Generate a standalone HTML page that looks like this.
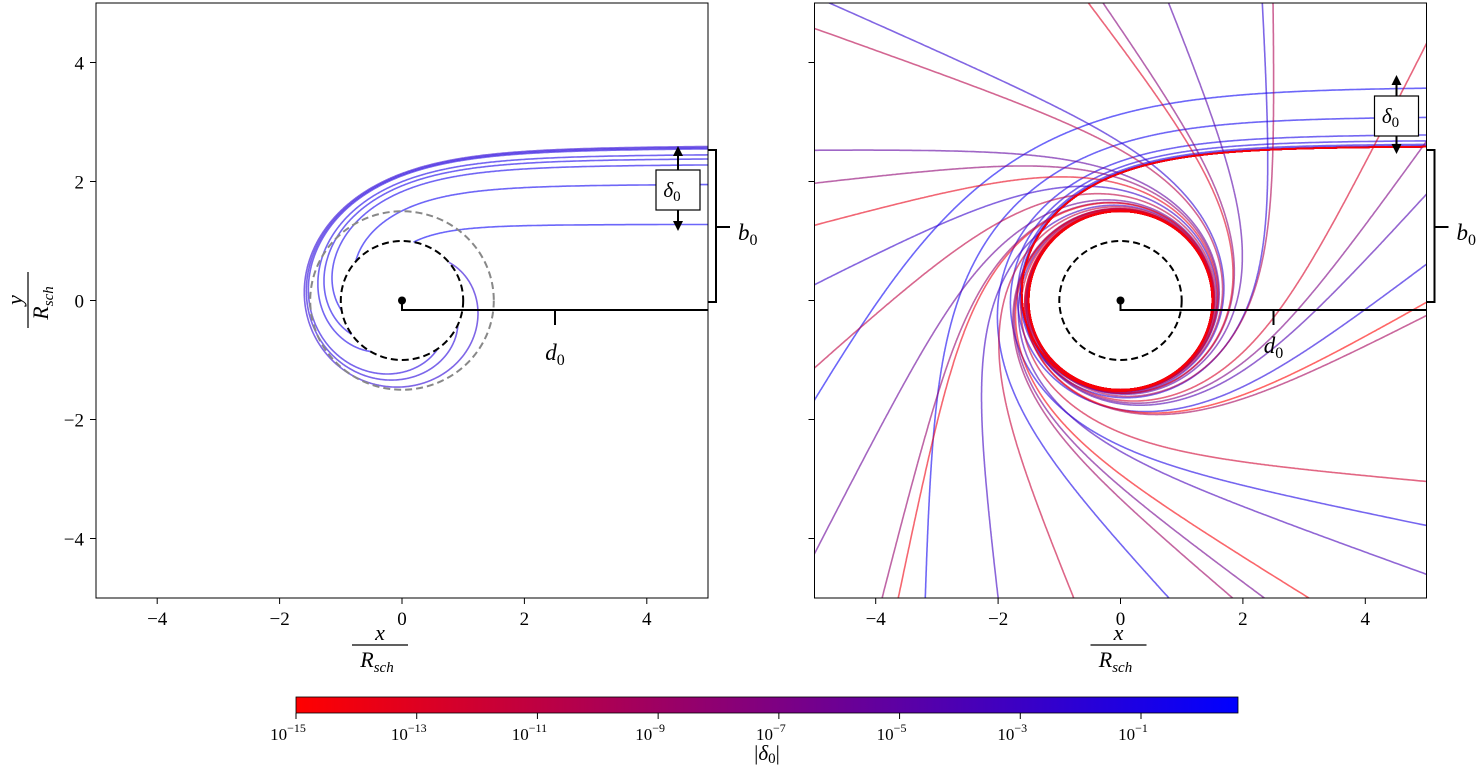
<!DOCTYPE html>
<html><head><meta charset="utf-8"><style>
html,body{margin:0;background:#fff;overflow:hidden;width:1480px;height:776px}
svg{display:block;font-family:"Liberation Serif",serif}
</style></head><body>
<svg id="fig" width="1480" height="776" viewBox="0 0 1480 776" xmlns="http://www.w3.org/2000/svg">
<defs>
<clipPath id="clipL"><rect x="96" y="3" width="612" height="595"/></clipPath>
<clipPath id="clipR"><rect x="815" y="3" width="611" height="595"/></clipPath>
<linearGradient id="cmap" x1="0" x2="1" y1="0" y2="0"><stop offset="0" stop-color="#ff0000"/><stop offset="0.5" stop-color="#800080"/><stop offset="1" stop-color="#0000ff"/></linearGradient>
<marker id="arr" viewBox="0 0 10 10" refX="5" refY="5" markerWidth="5" markerHeight="5" orient="auto-start-reverse"><path d="M0,0 L10,5 L0,10 z" fill="#000"/></marker>
</defs>
<g id="gL" clip-path="url(#clipL)"></g>
<g id="gR" clip-path="url(#clipR)"></g>
<g id="axes"></g>
<g id="ann"></g>
</svg>
<script>
// data
const deltasLeft=[0.01,0.03,0.05,0.15,0.22,0.32,0.65,1.32];
const deltasRight=[1,0.5,0.2,0.1,0.04,0.015,5e-3,2e-3,6e-4,2e-4,6e-5,2e-5,6e-6,2e-6,5e-7,1e-7,3e-8,1e-8,3e-9,1e-9,3e-10,1e-10,3e-11,1e-11,3e-12,1e-12,3e-13,1e-13,3e-14,1e-14,3e-15,1e-15];
const xTicks=[-4,-2,0,2,4];
const yTicks=[-4,-2,0,2,4];
const cbExps=[-15,-13,-11,-9,-7,-5,-3,-1];
const bCrit=3*Math.sqrt(3)/2;

const NS="http://www.w3.org/2000/svg";
function el(tag,attrs,parent,text){const e=document.createElementNS(NS,tag);for(const k in attrs)e.setAttribute(k,attrs[k]);if(text!==undefined)e.textContent=text;parent.appendChild(e);return e;}
const panels={L:{x0:402,g:document.getElementById('gL')},R:{x0:1120.5,g:document.getElementById('gR')}};
const kx=61.2,ky=59.5,y0=300.5;
const sx=(p,x)=>panels[p].x0+x*kx, sy=y=>y0-y*ky;
function color(d){let t=(Math.log10(d)+15)/15.6;t=Math.max(0,Math.min(1,t));
 return `rgb(${Math.round(255*(1-t))},0,${Math.round(255*t)})`;}
function traceIn(b){
 let u=1/Math.sqrt(25+b*b),phi=Math.atan2(b,5);
 let w=Math.sqrt(Math.max(0,1/(b*b)-u*u+u*u*u));
 const h=0.004;const pts=[[5,b]];
 const f=(u,w)=>[w,-u+1.5*u*u];
 for(let i=0;i<30000;i++){
  const k1=f(u,w),k2=f(u+h/2*k1[0],w+h/2*k1[1]),k3=f(u+h/2*k2[0],w+h/2*k2[1]),k4=f(u+h*k3[0],w+h*k3[1]);
  u+=h/6*(k1[0]+2*k2[0]+2*k3[0]+k4[0]);w+=h/6*(k1[1]+2*k2[1]+2*k3[1]+k4[1]);phi+=h;
  if(u<=0.03)break;
  const r=1/u;pts.push([r*Math.cos(phi),r*Math.sin(phi)]);
  if(u>1)break;
 }
 return pts;
}
function traceOut(d){
 const b=bCrit+d;
 const D=d*(2*bCrit+d)/(b*b*bCrit*bCrit);
 let s=Math.sqrt(D);
 for(let i=0;i<30;i++){s-= (s*s-s*s*s-D)/(2*s-3*s*s);}
 let v=-s,w=0,phi=0;const h=0.003;
 const f=(v,w)=>[w,v+1.5*v*v];
 const arr=[[0,2/3+v]];
 let phiInf=0;
 for(let i=0;i<40000;i++){
  const k1=f(v,w),k2=f(v+h/2*k1[0],w+h/2*k1[1]),k3=f(v+h/2*k2[0],w+h/2*k2[1]),k4=f(v+h*k3[0],w+h*k3[1]);
  const vp=v;
  v+=h/6*(k1[0]+2*k2[0]+2*k3[0]+k4[0]);w+=h/6*(k1[1]+2*k2[1]+2*k3[1]+k4[1]);phi+=h;
  const u=2/3+v;
  if(u<=0){const up=2/3+vp;phiInf=phi-h+h*up/(up-u);break;}
  arr.push([phi,u]);
 }
 const inc=[],out=[];
 arr.forEach(([ph,u])=>{if(u<0.02)return;const r=1/u;
  const a1=phiInf-ph,a2=phiInf+ph;
  inc.push([r*Math.cos(a1),r*Math.sin(a1)]);out.push([r*Math.cos(a2),r*Math.sin(a2)]);});
 return inc.reverse().concat(out);
}
function drawRay(p,pts,d){
 const dstr=pts.map((q,i)=>(i?'L':'M')+sx(p,q[0]).toFixed(1)+','+sy(q[1]).toFixed(1)).join('');
 const e=el('path',{d:dstr,fill:'none',stroke:color(d),'stroke-width':1.6,'stroke-opacity':0.6},panels[p].g);
 
 
}
deltasLeft.forEach(d=>drawRay('L',traceIn(bCrit-d),d));
deltasRight.forEach(d=>drawRay('R',traceOut(d),d));

const ax=document.getElementById('axes');
const an=document.getElementById('ann');
['L','R'].forEach(p=>{
 const g=panels[p].g;
 if(p==='L'){const c=el('ellipse',{cx:sx(p,0),cy:sy(0),rx:1.5*kx,ry:1.5*ky,fill:'none',stroke:'#888','stroke-width':2,'stroke-dasharray':'7,4'},g);
  }
 const h=el('ellipse',{cx:sx(p,0),cy:sy(0),rx:kx,ry:ky,fill:'none',stroke:'#000','stroke-width':2,'stroke-dasharray':'7,4'},g);
 
 const left=sx(p,-5),right=sx(p,5);
 const fr=el('rect',{x:left,y:3,width:right-left,height:595,fill:'none',stroke:'#000','stroke-width':1},ax);
 
 xTicks.forEach(t=>{const X=sx(p,t);el('line',{x1:X,x2:X,y1:598,y2:604,stroke:'#000'},ax);
  const tx=el('text',{x:X,y:625,'font-size':19,'text-anchor':'middle'},ax,(t<0?'\u2212':'')+Math.abs(t));
  });
 yTicks.forEach(t=>{const Y=sy(t);el('line',{x1:left,x2:left-6,y1:Y,y2:Y,stroke:'#000'},ax);
  if(p==='L'){const tx=el('text',{x:left-12,y:Y+7,'font-size':19,'text-anchor':'end'},ax,(t<0?'\u2212':'')+Math.abs(t));
  }});
 const cx=sx(p,0)+(p==='L'?-22:-2);
 const xl=el('g',{},ax);
 el('text',{x:cx,y:640,'font-size':22,'font-style':'italic','text-anchor':'middle'},xl,'x');
 el('line',{x1:cx-28,x2:cx+28,y1:645,y2:645,stroke:'#000','stroke-width':1.2},xl);
 const rt=el('text',{x:cx-3,y:667,'font-size':22,'font-style':'italic','text-anchor':'middle'},xl,'R');
 el('tspan',{'font-size':15,dy:5},rt,'sch');
 const O=sx(p,0);
 el('circle',{cx:O,cy:sy(0),r:4,fill:'#000'},an);
 el('path',{d:`M${O},${sy(0)} V310 H${sx(p,5)}`,fill:'none',stroke:'#000','stroke-width':2},an);
 el('path',{d:`M${sx(p,2.5)},310 V325`,stroke:'#000','stroke-width':2},an);
 const dl=el('text',{x:sx(p,2.5),y:p==='L'?360:353,'font-size':23,'font-style':'italic','text-anchor':'middle'},an,'d');
 el('tspan',{'font-size':16,dy:5,'font-style':'normal'},dl,'0');
 
 const bx=right+8;
 el('path',{d:`M${right},150 H${bx} V302 H${right} M${bx},227 H${bx+14}`,fill:'none',stroke:'#000','stroke-width':2},an);
 const bl=el('text',{x:bx+22,y:240,'font-size':23,'font-style':'italic'},an,'b');
 el('tspan',{'font-size':16,dy:5,'font-style':'normal'},bl,'0');
 
 const by=p==='L'?170:96, ax0=right-30;
 el('line',{x1:ax0,x2:ax0,y1:by,y2:(p==='L'?151:80),stroke:'#000','stroke-width':2,'marker-end':'url(#arr)'},an);
 el('line',{x1:ax0,x2:ax0,y1:by+40,y2:(p==='L'?226:149),stroke:'#000','stroke-width':2,'marker-end':'url(#arr)'},an);
 el('rect',{x:right-52,y:by,width:44,height:40,fill:'#fff',stroke:'#000','stroke-width':1.2},an);
 const dt=el('text',{x:ax0-6,y:by+27,'font-size':21,'text-anchor':'middle','font-style':'italic'},an,'δ');
 el('tspan',{'font-size':15,dy:4,'font-style':'normal'},dt,'0');
 
});
const yl=el('g',{transform:'translate(30,300) rotate(-90)'},ax);

el('text',{x:0,y:-8,'font-size':22,'font-style':'italic','text-anchor':'middle'},yl,'y');
el('line',{x1:-28,x2:28,y1:-2,y2:-2,stroke:'#000','stroke-width':1.2},yl);
const yr=el('text',{x:-3,y:18,'font-size':22,'font-style':'italic','text-anchor':'middle'},yl,'R');
el('tspan',{'font-size':15,dy:5},yr,'sch');
const cbx0=296,cbx1=1238,cbPer=(1141-296)/14;
const cb=el('rect',{x:cbx0,y:697,width:cbx1-cbx0,height:16,fill:'url(#cmap)',stroke:'#000','stroke-width':0.8},ax);

cbExps.forEach(e=>{const X=cbx0+(e+15)*cbPer;el('line',{x1:X,x2:X,y1:713,y2:719,stroke:'#000'},ax);
 const t=el('text',{x:X-8,y:740,'font-size':17,'text-anchor':'middle'},ax,'10');
 el('tspan',{'font-size':12,dy:-8},t,'\u2212'+Math.abs(e));
 });
const cl=el('text',{x:767,y:760,'font-size':21,'text-anchor':'middle'},ax,'|');
el('tspan',{'font-style':'italic'},cl,'δ');el('tspan',{'font-size':15,dy:3},cl,'0');el('tspan',{dy:-3},cl,'|');

</script>
</body></html>
